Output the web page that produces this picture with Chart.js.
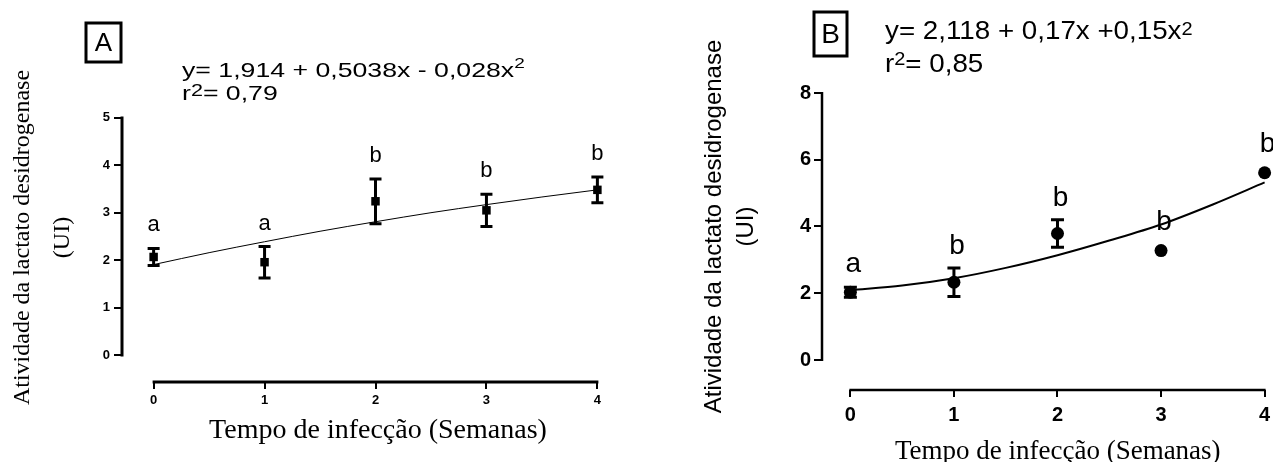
<!DOCTYPE html>
<html>
<head>
<meta charset="utf-8">
<script src="https://cdn.jsdelivr.net/npm/chart.js@4.4.0/dist/chart.umd.min.js"></script>
<style>
html, body { margin: 0; padding: 0; background: #fff; overflow: hidden; }
#wrap { position: relative; width: 1273px; height: 462px; overflow: hidden; }
#chartA { position: absolute; left: 0; top: 0; }
#chartB { position: absolute; left: 640px; top: 0; }
</style>
</head>
<body>
<div id="wrap">
<canvas id="chartA" width="640" height="462"></canvas>
<canvas id="chartB" width="660" height="462"></canvas>
</div>
<script>
"use strict"

// == data
const weeks = [0, 1, 2, 3, 4]
const fitWeeks = [0, 0.5, 1, 1.5, 2, 2.5, 3, 3.5, 4]

// panel A
const ldhA = [2.07, 1.96, 3.24, 3.05, 3.48]
const semA = [0.18, 0.33, 0.47, 0.34, 0.27]
const fitA = [1.91, 2.16, 2.39, 2.61, 2.81, 3.00, 3.17, 3.33, 3.48]
const lettersA = ["a", "a", "b", "b", "b"]
const yTicksA = [0, 1, 2, 3, 4, 5]

// panel B
const ldhB = [2.03, 2.33, 3.79, 3.28, 5.61]
const semB = [0.15, 0.43, 0.41, 0, 0]
const fitB = [2.09, 2.23, 2.45, 2.76, 3.14, 3.58, 4.06, 4.66, 5.32]
const lettersB = ["a", "b", "b", "b", "b"]
const yTicksB = [0, 2, 4, 6, 8]

const xTitle = "Tempo de infecção (Semanas)"
const yTitle = ["Atividade da lactato desidrogenase", "(UI)"]


// axes lines, error bars, letters, panel box and equation
const prismPlugin = {
    id: "prism",
    afterDraw(chart, args, o) {
        const ctx = chart.ctx
        const xs = chart.scales.x
        const ys = chart.scales.y
        const area = chart.chartArea
        ctx.save()
        ctx.strokeStyle = "#000"
        ctx.fillStyle = "#000"

        // detached axes: y stops at its first tick, x sits below
        ctx.lineWidth = o.axisWidth
        ctx.beginPath()
        ctx.moveTo(area.left, ys.getPixelForValue(o.yTicks[0]) + 1)
        ctx.lineTo(area.left, ys.getPixelForValue(o.yTicks[o.yTicks.length - 1]) - 1)
        ctx.moveTo(xs.getPixelForValue(weeks[0]) - 1, area.bottom)
        ctx.lineTo(xs.getPixelForValue(weeks[weeks.length - 1]) + 1, area.bottom)
        ctx.stroke()

        // error bars
        ctx.lineWidth = 3
        for (let i = 0; i < weeks.length; i++) {
            if (!o.sem[i]) continue
            let x = xs.getPixelForValue(weeks[i])
            let y1 = ys.getPixelForValue(o.means[i] + o.sem[i])
            let y2 = ys.getPixelForValue(o.means[i] - o.sem[i])
            ctx.beginPath()
            ctx.moveTo(x, y1)
            ctx.lineTo(x, y2)
            ctx.moveTo(x - o.cap, y1)
            ctx.lineTo(x + o.cap, y1)
            ctx.moveTo(x - o.cap, y2)
            ctx.lineTo(x + o.cap, y2)
            ctx.stroke()
        }

        // significance letters above each point
        ctx.textAlign = "center"
        ctx.textBaseline = "middle"
        ctx.font = o.letterFont
        for (let i = 0; i < weeks.length; i++) {
            let x = xs.getPixelForValue(weeks[i])
            let top = Math.min(ys.getPixelForValue(o.means[i] + o.sem[i]),
                               ys.getPixelForValue(o.means[i]) - o.markerR)
            ctx.fillText(o.letters[i], x + o.letterShift, top - o.letterGap)
        }

        // panel letter in a box
        ctx.lineWidth = 3
        ctx.strokeRect(o.box[0], o.box[1], o.box[2], o.box[3])
        ctx.font = o.boxFont
        ctx.fillText(o.panel, o.box[0] + o.box[2] / 2, o.box[1] + o.box[3] / 2 + 1)

        // regression equation, with superscripts
        ctx.textAlign = "left"
        ctx.textBaseline = "alphabetic"
        for (const line of o.equation) {
            let x = o.eqX
            for (const [text, size, raise] of line.parts) {
                ctx.save()
                ctx.translate(x, line.y - raise)
                ctx.scale(o.eqStretch, 1)
                ctx.font = size + "px 'Liberation Sans'"
                ctx.fillText(text, 0, 0)
                x += ctx.measureText(text).width * o.eqStretch
                ctx.restore()
            }
        }
        ctx.restore()
    }
}


function BuildChart(id, c) {
    const tickFont = { family: "'Liberation Sans'", size: c.tickSize, weight: "bold" }
    return new Chart(document.getElementById(id), {
        type: "scatter",
        data: {
            datasets: [
                {
                    data: weeks.map((w, i) => ({ x: w, y: c.means[i] })),
                    pointStyle: c.pointStyle,
                    pointRadius: c.pointRadius,
                    backgroundColor: "#000",
                    borderColor: "#000",
                    borderWidth: 0,
                },
                {
                    data: fitWeeks.map((w, i) => ({ x: w, y: c.fit[i] })),
                    showLine: true,
                    pointRadius: 0,
                    borderColor: "#000",
                    borderWidth: c.fitWidth,
                    cubicInterpolationMode: "monotone",
                },
            ]
        },
        options: {
            responsive: false,
            animation: false,
            devicePixelRatio: 1,
            layout: { padding: { top: c.top, right: c.right, left: 0, bottom: 0 } },
            plugins: {
                legend: { display: false },
                tooltip: { enabled: false },
                prism: c.prism,
            },
            scales: {
                x: {
                    type: "linear",
                    min: c.xMin,
                    max: c.xMax,
                    afterBuildTicks: s => { s.ticks = weeks.map(v => ({ value: v })) },
                    afterFit: s => { s.height = c.xHeight },
                    border: { display: false },
                    grid: { drawOnChartArea: false, drawTicks: true, tickLength: 7, lineWidth: c.tickWidth, color: "#000" },
                    ticks: { font: tickFont, color: "#000", padding: c.xPad, maxRotation: 0 },
                    title: { display: true, text: xTitle, color: "#000", font: c.xTitleFont, padding: c.xTitlePad },
                },
                y: {
                    type: "linear",
                    min: c.yMin,
                    max: c.yMax,
                    afterBuildTicks: s => { s.ticks = c.yTicks.map(v => ({ value: v })) },
                    afterFit: s => { s.width = c.yWidth },
                    border: { display: false },
                    grid: { drawOnChartArea: false, drawTicks: true, tickLength: 8, lineWidth: c.tickWidth, color: "#000" },
                    ticks: { font: tickFont, color: "#000", padding: c.yPad },
                    title: { display: true, text: yTitle, color: "#000", font: c.yTitleFont, padding: c.yTitlePad },
                },
            }
        },
        plugins: [prismPlugin]
    })
}


BuildChart("chartA", {
    means: ldhA, fit: fitA, yTicks: yTicksA,
    pointStyle: "rect", pointRadius: 6, fitWidth: 1,
    top: 93, right: 0, yWidth: 122, xHeight: 80,
    xMin: -0.285, xMax: 4.33, yMin: -0.557, yMax: 5.515,
    tickSize: 13, tickWidth: 2, xPad: 4, yPad: 4,
    xTitleFont: { family: "'Liberation Serif'", size: 28, lineHeight: 1.2 },
    xTitlePad: { top: 0, bottom: 15 },
    yTitleFont: { family: "'Liberation Serif'", size: 24, lineHeight: 1.667 },
    yTitlePad: { top: 2.5, bottom: 0 },
    prism: {
        yTicks: yTicksA, means: ldhA, sem: semA, letters: lettersA,
        axisWidth: 3, cap: 6, markerR: 5,
        letterFont: "22px 'Liberation Sans'", letterGap: 23, letterShift: 0,
        panel: "A", box: [86, 23, 35, 39], boxFont: "26px 'Liberation Sans'",
        eqX: 182, eqStretch: 1.27,
        equation: [
            { y: 77, parts: [["y= 1,914 + 0,5038x - 0,028x", 21, 0], ["2", 15, 9]] },
            { y: 100, parts: [["r", 21, 0], ["2", 17, 4], ["= 0,79", 21, 0]] },
        ],
    },
})

BuildChart("chartB", {
    means: ldhB, fit: fitB, yTicks: yTicksB,
    pointStyle: "circle", pointRadius: 6.5, fitWidth: 2,
    top: 63, right: 4, yWidth: 182, xHeight: 72,
    xMin: -0.274, xMax: 4.279, yMin: -0.899, yMax: 8.899,
    tickSize: 20, tickWidth: 2, xPad: 6, yPad: 3,
    xTitleFont: { family: "'Liberation Serif'", size: 27, lineHeight: 0.74 },
    xTitlePad: { top: 0, bottom: 0 },
    yTitleFont: { family: "'Liberation Sans'", size: 24, lineHeight: 1.333 },
    yTitlePad: { top: 58, bottom: 0 },
    prism: {
        yTicks: yTicksB, means: ldhB, sem: semB, letters: lettersB,
        axisWidth: 2.5, cap: 6.5, markerR: 6,
        letterFont: "28px 'Liberation Sans'", letterGap: 22, letterShift: 3,
        panel: "B", box: [174, 12, 33, 44], boxFont: "28px 'Liberation Sans'",
        eqX: 245, eqStretch: 1.11,
        equation: [
            { y: 39, parts: [["y= 2,118 + 0,17x +0,15x", 25, 0], ["2", 18, 4]] },
            { y: 72, parts: [["r", 25, 0], ["2", 18, 7], ["= 0,85", 25, 0]] },
        ],
    },
})
</script>
</body>
</html>
